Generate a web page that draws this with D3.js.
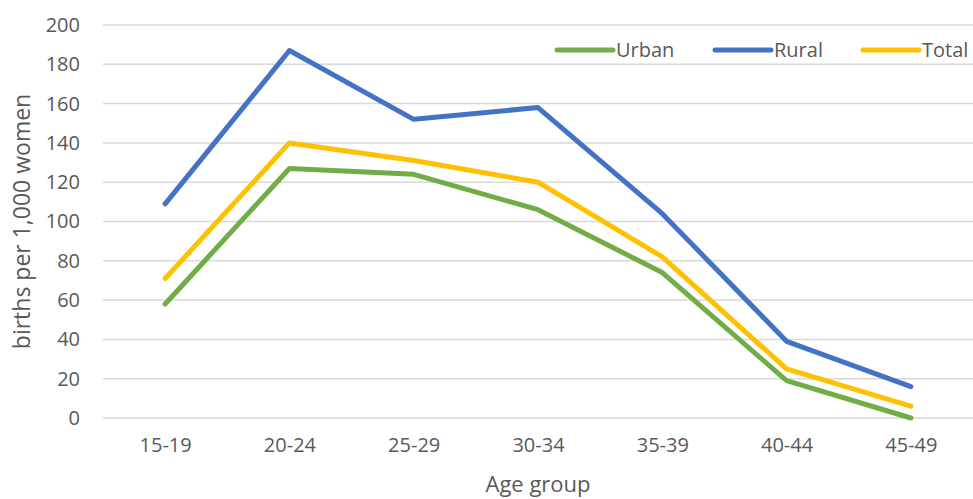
<!DOCTYPE html>
<html>
<head>
<meta charset="utf-8">
<script src="https://cdn.jsdelivr.net/npm/d3@7"></script>
<style>
    body { margin: 0; background: #fff; }
    #chart { width: 973px; height: 499px; }
    text { font-family: "Open Sans", "Noto Sans", sans-serif; fill: #595959; }
</style>
</head>
<body>
<div id="chart"></div>
<script>
const AGE_GROUPS = ['15-19', '20-24', '25-29', '30-34', '35-39', '40-44', '45-49'];
const URBAN = [58, 127, 124, 106, 74, 19, 0];
const RURAL = [109, 187, 152, 158, 104, 39, 16];
const TOTAL = [71, 140, 131, 120, 82, 25, 6];
const Y_TICKS = [0, 20, 40, 60, 80, 100, 120, 140, 160, 180, 200];

const SERIES = [
    {name: 'Urban', values: URBAN, color: '#70ad47'},
    {name: 'Rural', values: RURAL, color: '#4472c4'},
    {name: 'Total', values: TOTAL, color: '#ffc000'}
];

let margin = {top: 25, right: 0, bottom: 81, left: 103};
let width = 973 - margin.left - margin.right;
let height = 499 - margin.top - margin.bottom;

let svg = d3.select('#chart')
    .append('svg')
    .attr('width', 973)
    .attr('height', 499)
    .append('g')
    .attr('transform', 'translate(' + margin.left + ',' + margin.top + ')');

// Scales
let x = d3.scalePoint()
    .domain(AGE_GROUPS)
    .range([0, width])
    .padding(0.5);
let y = d3.scaleLinear()
    .domain([0, 200])
    .range([height, 0]);

// Gridlines
svg.append('g')
    .selectAll('line')
    .data(Y_TICKS)
    .join('line')
    .attr('x1', 0)
    .attr('x2', width)
    .attr('y1', d => y(d))
    .attr('y2', d => y(d))
    .attr('stroke', '#d9d9d9')
    .attr('stroke-width', 1.5);

// Y axis
let yAxis = svg.append('g')
    .call(d3.axisLeft(y).tickValues(Y_TICKS).tickSize(0).tickPadding(23));
yAxis.select('.domain').remove();
yAxis.selectAll('text').style('font-size', '20px');

// X axis
let xAxis = svg.append('g')
    .attr('transform', 'translate(0,' + height + ')')
    .call(d3.axisBottom(x).tickSize(0).tickPadding(20));
xAxis.select('.domain').remove();
xAxis.selectAll('text').style('font-size', '20px');

// Axis titles
svg.append('text')
    .attr('transform', 'translate(-81,' + (height / 2) + ') rotate(-90)')
    .attr('text-anchor', 'middle')
    .attr('dy', '0.35em')
    .style('font-size', '23px')
    .text('births per 1,000 women');

svg.append('text')
    .attr('x', width / 2)
    .attr('y', height + 74)
    .attr('text-anchor', 'middle')
    .style('font-size', '22px')
    .text('Age group');

// Lines
let lineGenerator = d3.line()
    .x((d, i) => x(AGE_GROUPS[i]))
    .y(d => y(d));

SERIES.forEach(function (s) {
    svg.append('path')
        .datum(s.values)
        .attr('fill', 'none')
        .attr('stroke', s.color)
        .attr('stroke-width', 5)
        .attr('stroke-linecap', 'round')
        .attr('stroke-linejoin', 'round')
        .attr('d', lineGenerator);
});

// Legend
let legendX = [454, 612, 760];
let legend = svg.append('g').attr('transform', 'translate(0,25)');
SERIES.forEach(function (s, i) {
    let g = legend.append('g').attr('transform', 'translate(' + legendX[i] + ',0)');
    g.append('line')
        .attr('x1', 0)
        .attr('x2', 56)
        .attr('stroke', s.color)
        .attr('stroke-width', 5)
        .attr('stroke-linecap', 'round');
    g.append('text')
        .attr('x', 59)
        .attr('dy', '0.35em')
        .style('font-size', '20px')
        .text(s.name);
});
</script>
</body>
</html>
